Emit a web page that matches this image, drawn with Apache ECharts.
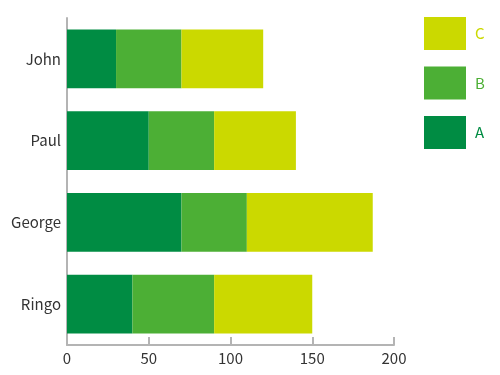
<!DOCTYPE html>
<html>
<head>
<meta charset="utf-8">
<script src="https://cdn.jsdelivr.net/npm/echarts@6/dist/echarts.min.js"></script>
<style>html,body{margin:0;padding:0;background:#fff;}#chart{width:500px;height:375px;}</style>
</head>
<body>
<div id="chart"></div>
<script>
const categories = ['Ringo', 'George', 'Paul', 'John'];
const seriesA = [40, 70, 50, 30];
const seriesB = [50, 40, 40, 40];
const seriesC = [60, 77, 50, 50];
const xTicks = [0, 50, 100, 150, 200];

const colors = { A: '#008c43', B: '#4caf35', C: '#cbd900' };
const font = '"Noto Sans CJK JP", "Noto Sans", sans-serif';

const chart = echarts.init(document.getElementById('chart'));
chart.setOption({
  animation: false,
  grid: { left: 67, right: 106, top: 18, bottom: 30, containLabel: false },
  legend: {
    orient: 'vertical',
    left: 424,
    top: 17,
    padding: 0,
    itemWidth: 42,
    itemHeight: 33,
    itemGap: 16.5,
    icon: 'rect',
    textStyle: { fontFamily: font, fontSize: 15, padding: [0, 0, 0, 4] },
    data: [
      { name: 'C', textStyle: { color: colors.C } },
      { name: 'B', textStyle: { color: colors.B } },
      { name: 'A', textStyle: { color: colors.A } }
    ]
  },
  xAxis: {
    type: 'value',
    min: xTicks[0],
    max: xTicks[xTicks.length - 1],
    interval: 50,
    axisLine: { show: true, lineStyle: { color: '#b4b4b4', width: 2 } },
    axisTick: { show: true, inside: true, length: 8, lineStyle: { color: '#b4b4b4', width: 2 } },
    splitLine: { show: false },
    axisLabel: { color: '#333', fontFamily: font, fontSize: 15, margin: 6 }
  },
  yAxis: {
    type: 'category',
    data: categories,
    axisLine: { show: true, lineStyle: { color: '#b4b4b4', width: 2 } },
    axisTick: { show: true, inside: true, alignWithLabel: true, length: 8, lineStyle: { color: '#b4b4b4', width: 2 } },
    axisLabel: { color: '#333', fontFamily: font, fontSize: 15, margin: 6 }
  },
  series: [
    { name: 'A', type: 'bar', stack: 'total', data: seriesA, itemStyle: { color: colors.A }, barCategoryGap: '28%' },
    { name: 'B', type: 'bar', stack: 'total', data: seriesB, itemStyle: { color: colors.B }, barCategoryGap: '28%' },
    { name: 'C', type: 'bar', stack: 'total', data: seriesC, itemStyle: { color: colors.C }, barCategoryGap: '28%' }
  ]
});
</script>
</body>
</html>
